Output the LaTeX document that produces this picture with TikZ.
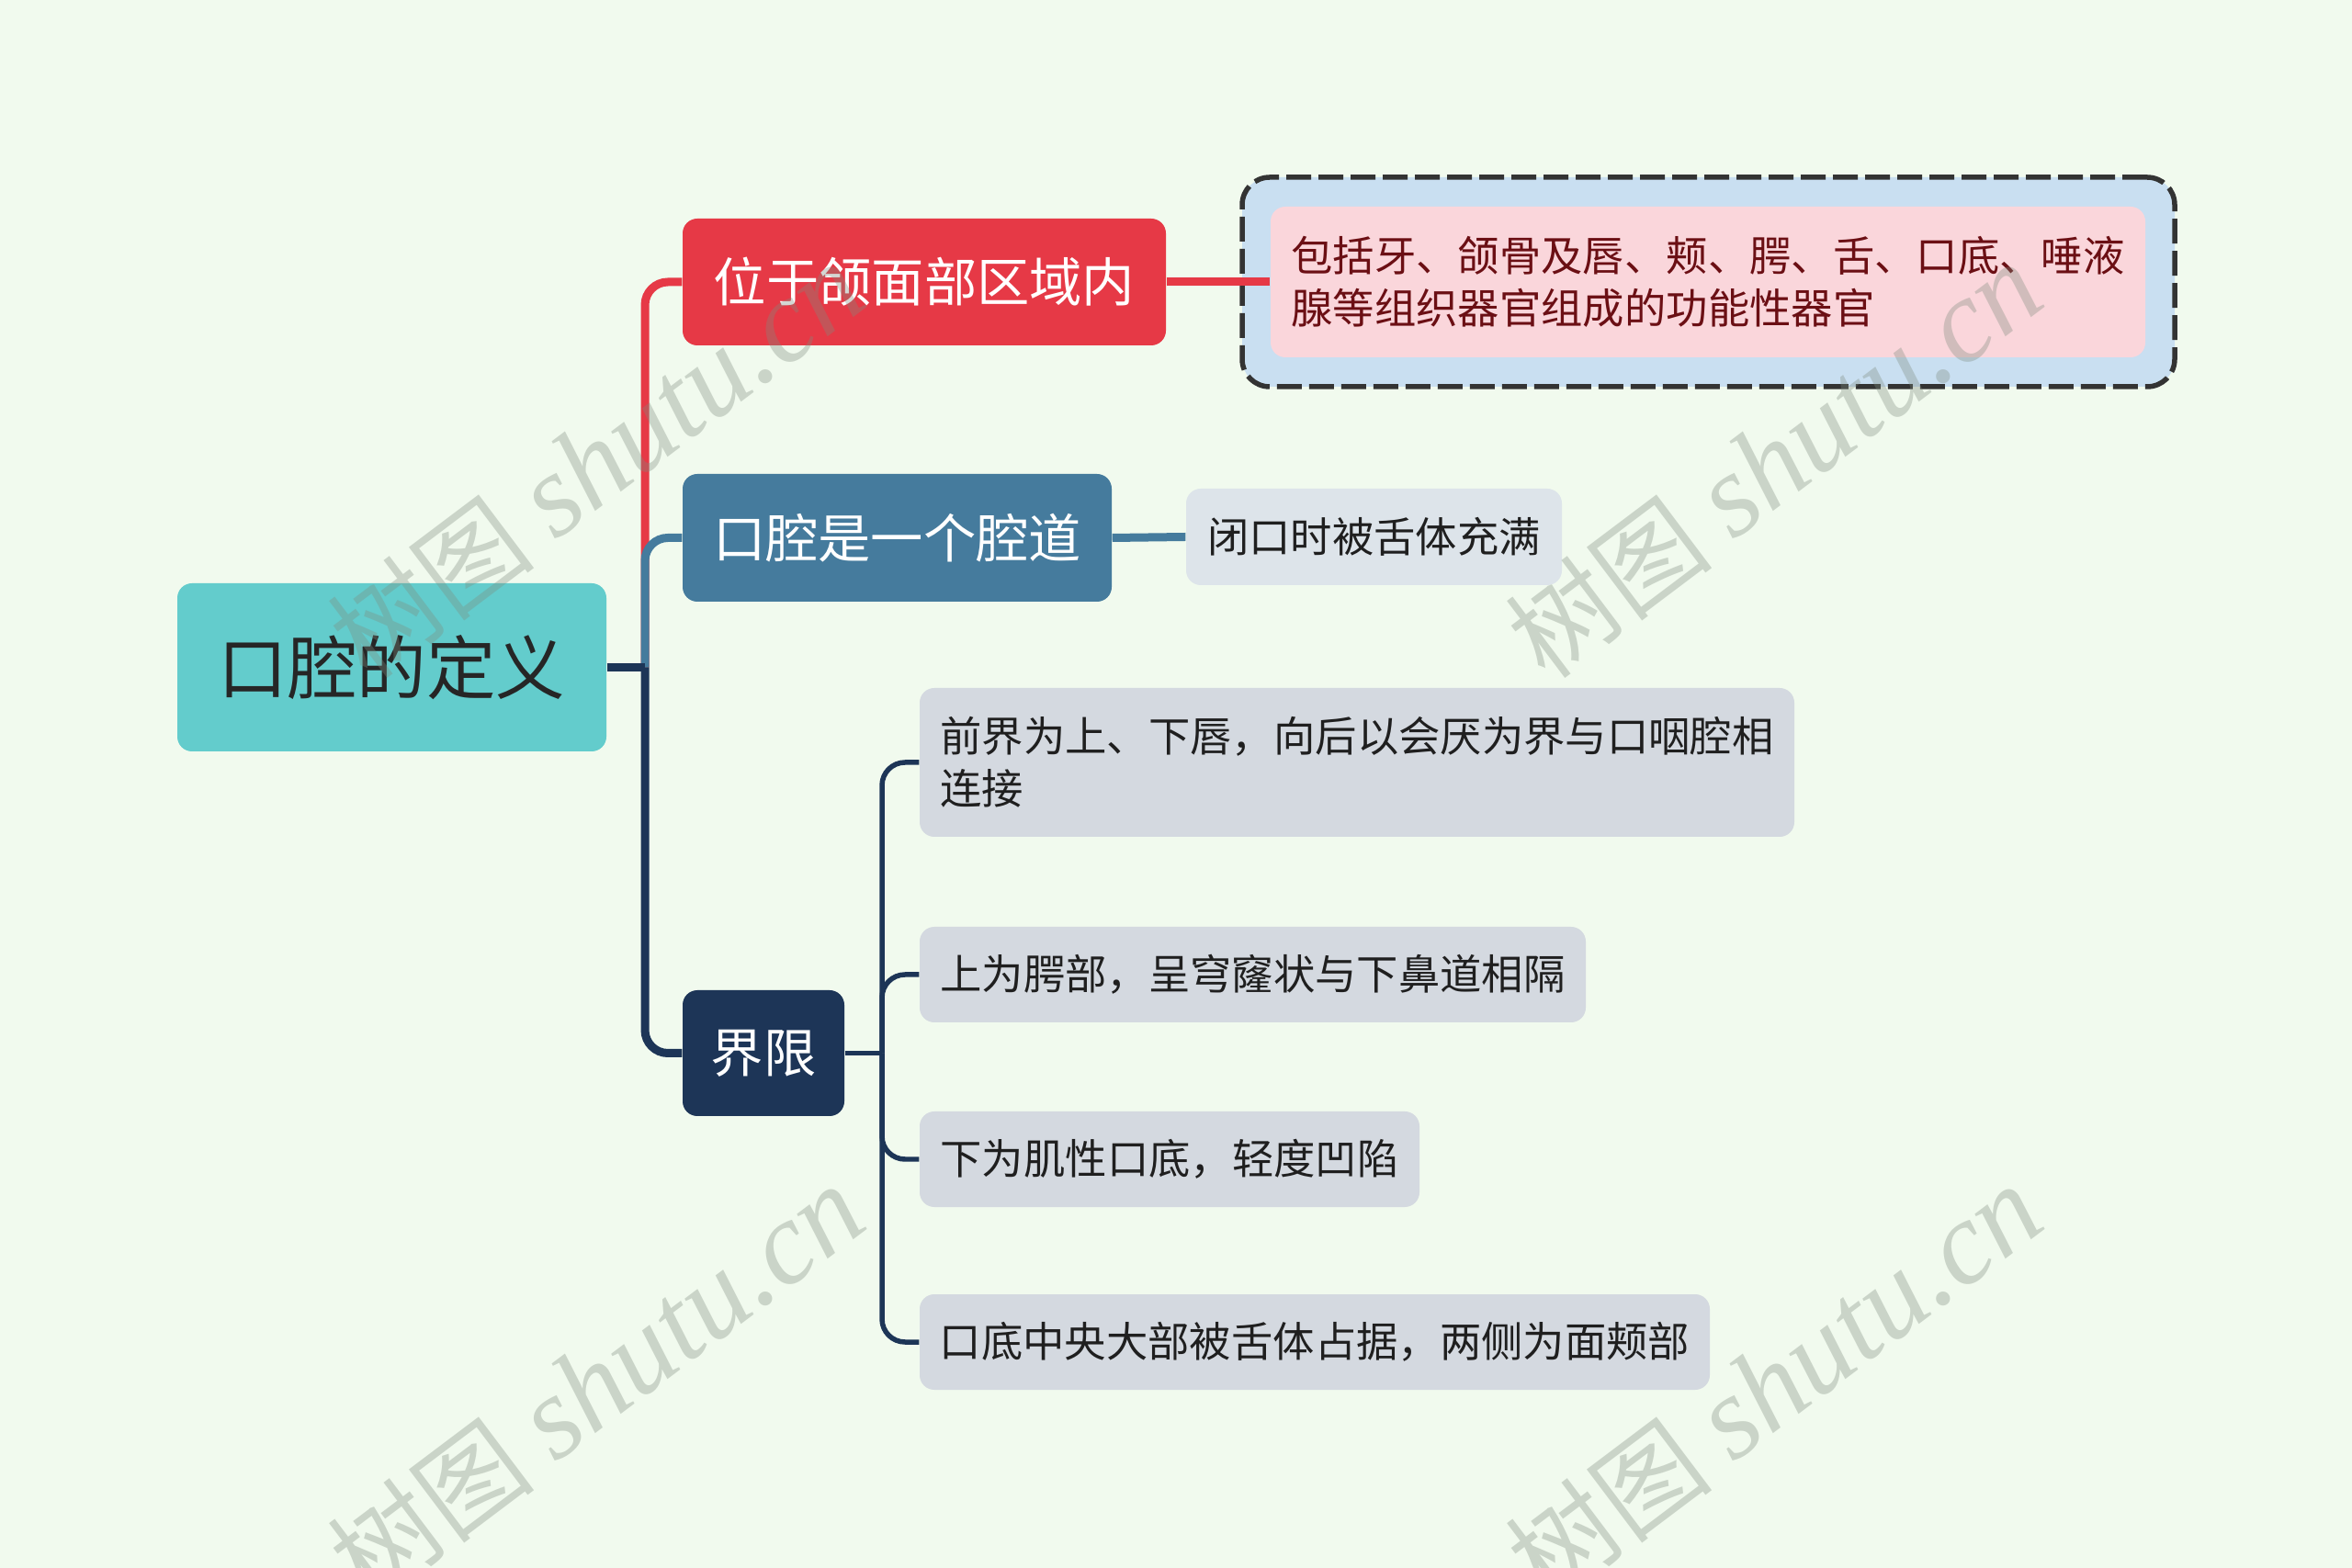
\documentclass[tikz,border=0pt]{standalone}
\usepackage{fontspec}
\newfontfamily\cjk{Noto Sans CJK SC}
\newfontfamily\wmfont{Liberation Serif}
\definecolor{bgcol}{HTML}{F1FAEE}
\definecolor{rootcol}{HTML}{63CCCC}
\definecolor{redcol}{HTML}{E63946}
\definecolor{bluecol}{HTML}{457B9D}
\definecolor{navycol}{HTML}{1D3557}
\definecolor{pinkcol}{HTML}{FAD6DB}
\definecolor{skycol}{HTML}{C9DFF1}
\definecolor{leafcol}{HTML}{D4D9E0}
\definecolor{leaftwo}{HTML}{DDE4EA}
\definecolor{darkred}{HTML}{6B0F14}
\definecolor{wmcol}{HTML}{7F8C7F}
\begin{document}
\begin{tikzpicture}[x=1cm, y=1cm,
    box/.style={rounded corners=0.16cm, inner sep=0pt, align=center},
    rootbox/.style={box, fill=rootcol, text=black!85, font=\cjk\fontsize{21.5}{26}\selectfont},
    mainbox/.style={box, text=white, font=\cjk\fontsize{16.3}{20}\selectfont},
    leafbox/.style={box, align=left, text=black!88, font=\cjk\fontsize{12.9}{16.2}\selectfont},
    link/.style={line width=0.09cm, rounded corners=0.25cm},
    sublink/.style={line width=0.055cm, rounded corners=0.25cm, navycol}]
    % 1. Nền
    \fill[bgcol] (0,0) rectangle (25.6,-17.07);
    \useasboundingbox (0,0) rectangle (25.6,-17.07);

    % 2. Chủ đề trung tâm
    \node[rootbox, minimum width=4.67cm, minimum height=1.83cm] (root) at (4.265,-7.265) {口腔的定义};

    % 3. Ba nhánh chính
    \node[mainbox, fill=redcol, minimum width=5.26cm, minimum height=1.38cm] (pos) at (10.06,-3.07) {位于颌面部区域内};
    \node[mainbox, fill=bluecol, minimum width=4.67cm, minimum height=1.39cm] (cav) at (9.765,-5.855) {口腔是一个腔道};
    \node[mainbox, fill=navycol, minimum width=1.76cm, minimum height=1.37cm] (bnd) at (8.31,-11.465) {界限};

    % 4. Nhánh con
    \node[draw=black!80, line width=0.055cm, dash pattern=on 0.27cm off 0.08cm, rounded corners=0.3cm,
          fill=skycol, minimum width=10.15cm, minimum height=2.28cm] (posframe) at (18.595,-3.07) {};
    \node[leafbox, fill=pinkcol, text=darkred, minimum width=9.52cm, minimum height=1.64cm] (posleaf) at (18.59,-3.07)
        {包括牙、颌骨及唇、颊、腭、舌、口底、唾液\\腺等组织器官组成的功能性器官};
    \node[leafbox, fill=leaftwo, minimum width=4.09cm, minimum height=1.05cm] (cavleaf) at (14.955,-5.845) {闭口时被舌体充满};
    \node[leafbox, fill=leafcol, minimum width=9.52cm, minimum height=1.62cm] (front) at (14.77,-8.30)
        {前界为上、下唇，向后以会厌为界与口咽腔相\\连接};
    \node[leafbox, fill=leafcol, minimum width=7.25cm, minimum height=1.04cm] (upper) at (13.635,-10.61) {上为腭部，呈穹窿状与下鼻道相隔};
    \node[leafbox, fill=leafcol, minimum width=5.44cm, minimum height=1.04cm] (lower) at (12.73,-12.62) {下为肌性口底，轻度凹陷};
    \node[leafbox, fill=leafcol, minimum width=8.60cm, minimum height=1.04cm] (floor) at (14.31,-14.61) {口底中央大部被舌体占据，两侧为面颊部};

    % 5. Đường nối
    \coordinate (j0) at (7.02,-7.265);
    \coordinate (j3) at (9.60,-11.465);
    \draw[link, redcol] (j0) |- (pos.west);
    \draw[link, bluecol] (j0) |- (cav.west);
    \draw[link, navycol] (j0) |- (bnd.west);
    \draw[link, navycol] (root.east) -- (j0);
    \draw[link, redcol] (pos.east) -- (posleaf.west);
    \draw[link, bluecol] (cav.east) -- (cavleaf.west);
    \draw[sublink] (j3) |- (front.west);
    \draw[sublink] (j3) |- (upper.west);
    \draw[sublink] (j3) |- (lower.west);
    \draw[sublink] (j3) |- (floor.west);
    \draw[sublink] (bnd.east) -- (j3);

    % 6. Hình mờ
    \foreach \p/\q [count=\i] in {6.49/-5.02, 19.31/-5.02, 6.49/-15.06, 19.31/-15.06}
        \node[rotate=37, text=wmcol, opacity=0.34, inner sep=0pt] (wm\i) at (\p,\q)
            {\cjk\fontsize{32.5}{40}\selectfont 树图\ \wmfont\itshape\fontsize{36.5}{40}\selectfont shutu.cn};
\end{tikzpicture}
\end{document}
